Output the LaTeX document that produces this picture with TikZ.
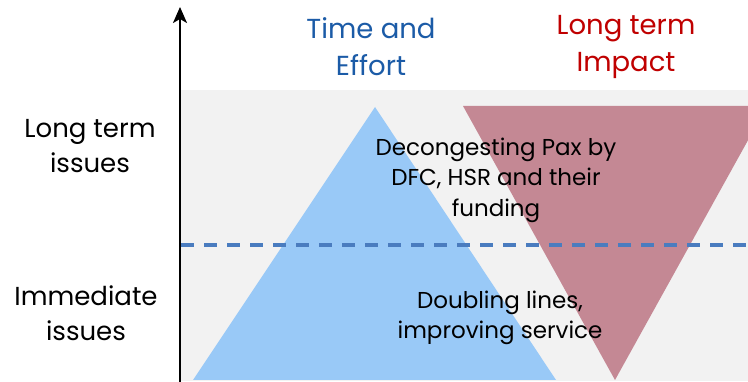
\documentclass[tikz,border=0pt]{standalone}
\usepackage{fontspec}
\setmainfont{Poppins}
\usetikzlibrary{arrows.meta}
\definecolor{bgGray}{HTML}{F2F2F2}
\definecolor{triBlue}{HTML}{99C9F7}
\definecolor{triPink}{HTML}{C48894}
\definecolor{titleBlue}{HTML}{1B5BA7}
\definecolor{titleRed}{HTML}{C00000}
\definecolor{dashBlue}{HTML}{4A7CBF}
\tikzset{
  lbl/.style={align=center, inner sep=0pt, font=\fontsize{26}{35}\selectfont},
  ttl/.style={align=center, inner sep=0pt, font=\fontsize{27.5}{37}\selectfont},
  body/.style={align=center, inner sep=0pt, font=\fontsize{23}{30.5}\selectfont},
}
\begin{document}
\begin{tikzpicture}[x=1pt,y=-1pt]
\useasboundingbox (0,0) rectangle (748,382);
\fill[white] (0,0) rectangle (748,382);
% background panel
\fill[bgGray] (180,90) rectangle (748,381);
% triangles
\fill[triBlue] (375,107) -- (556,380) -- (193,380) -- cycle;
\begin{scope}
\clip (180,90) rectangle (748,381);
\fill[triPink] (463,106) -- (767,106) -- (615,380) -- cycle;
\end{scope}
% dashed separator
\coordinate (dL) at (180,245);
\coordinate (dR) at (748,245);
\draw[dashBlue, line width=3.5pt, dash pattern=on 13pt off 10pt, dash phase=-1pt] (dL) -- (dR);
% axis
\coordinate (aB) at (180,382);
\coordinate (aT) at (180,7);
\draw[line width=2pt, -{Stealth[length=16pt,width=14pt,inset=4pt]}] (aB) -- (aT);
% titles
\node[ttl, text=titleBlue] (tTime) at (371,47) {Time and\\Effort};
\node[ttl, text=titleRed] (tImpact) at (626,47) {Long term\\Impact};
% side labels
\node[lbl] (sLong) at (90,146) {Long term\\issues};
\node[lbl] (sImm) at (86,313) {Immediate\\issues};
% inner texts
\node[body] (bDecong) at (496,180) {Decongesting Pax by\\DFC, HSR and their\\funding};
\node[body] (bDouble) at (500,318) {Doubling lines,\\improving service};
\end{tikzpicture}
\end{document}
